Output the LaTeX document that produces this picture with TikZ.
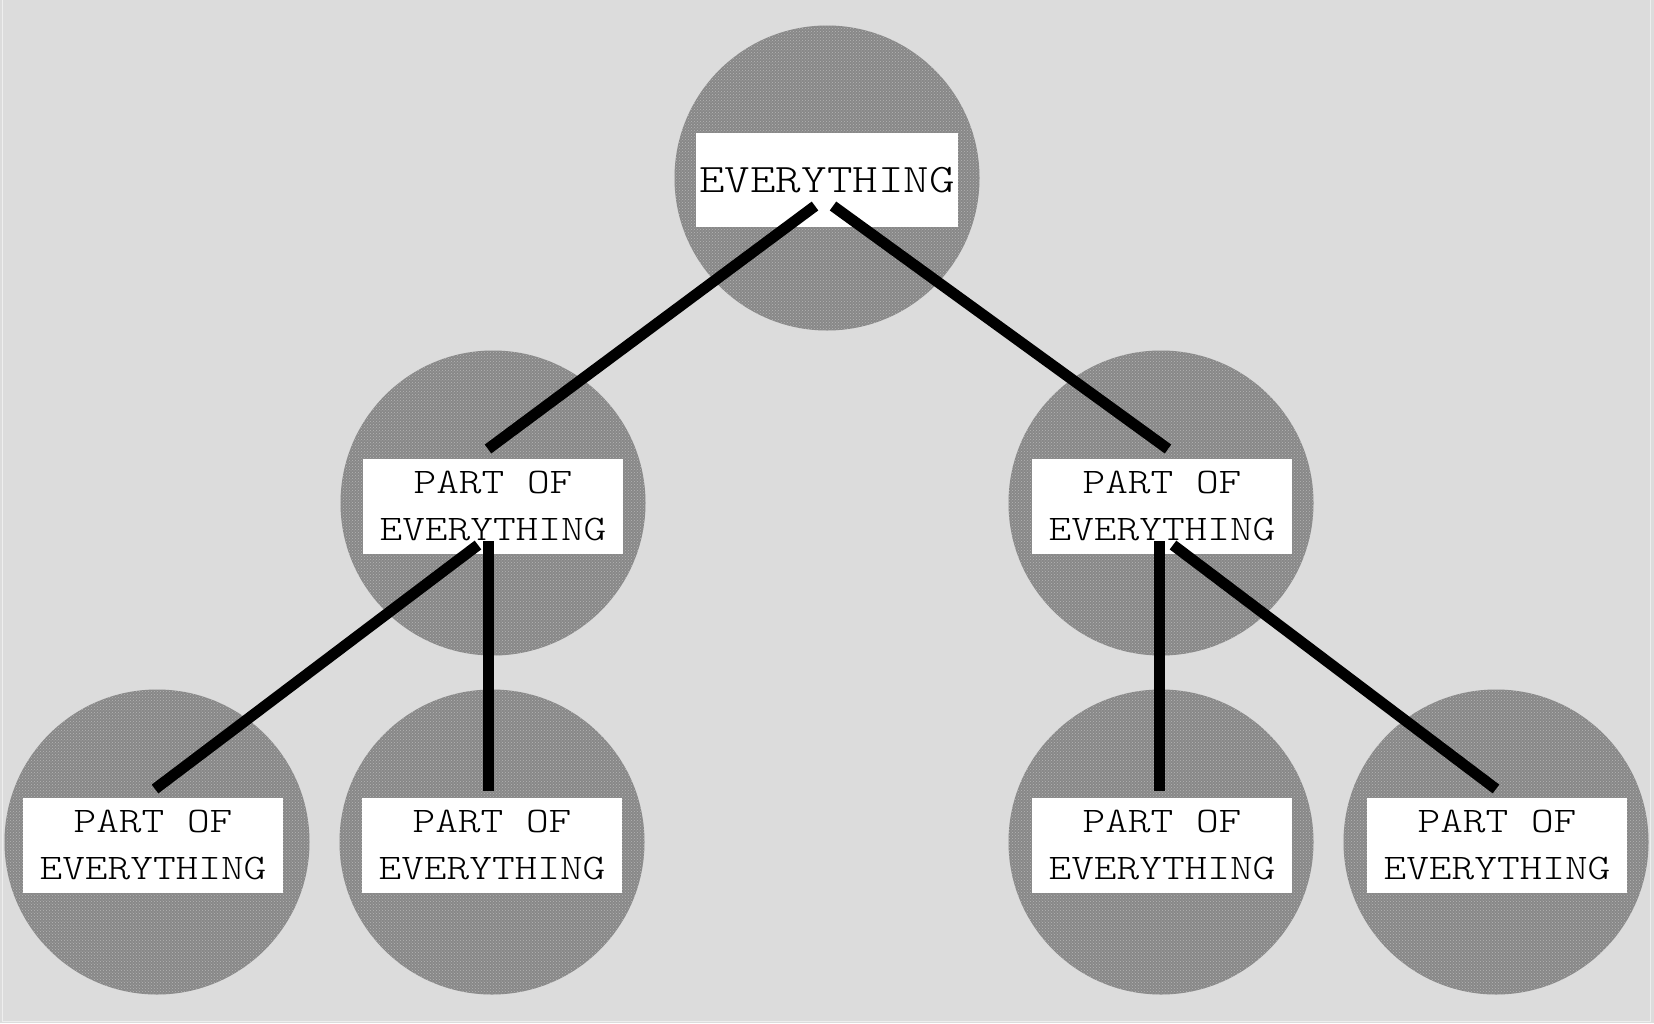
\documentclass[tikz,border=0pt]{standalone}
\usepackage{fontspec}
\newfontfamily\cour[FakeStretch=1.2]{Latin Modern Mono Light}
\usetikzlibrary{calc,patterns}
\definecolor{bgc}{HTML}{DCDCDC}
\definecolor{discfill}{HTML}{888888}
\definecolor{discdot}{HTML}{B4B4B4}
\definecolor{edgec}{HTML}{EEEEEE}
\tikzset{
  disc/.style={circle, minimum size=305pt, inner sep=0pt, fill=discfill,
    postaction={pattern=crosshatch dots, pattern color=discdot}},
  toplabel/.style={fill=white, inner sep=0pt, minimum width=262pt, minimum height=94pt,
    font=\cour\fontsize{40.5}{47}\selectfont},
  partlabel/.style={fill=white, inner sep=0pt, minimum width=260pt, minimum height=95pt,
    align=center, font=\cour\fontsize{36}{47}\selectfont},
  link/.style={line width=11pt, black, line cap=butt}
}
\begin{document}
\begin{tikzpicture}[x=1pt,y=-1pt]
\useasboundingbox (0,0) rectangle (1654,1023);
\fill[bgc] (0,0) rectangle (1654,1023);
\draw[edgec, line width=1pt] (2.5,0) -- (2.5,1021) -- (1650.5,1021) -- (1650.5,0);
% discs
\node[disc] (top) at (827,178) {};
\node[disc] (ml) at (493,503) {};
\node[disc] (mr) at (1161,503) {};
\node[disc] (bl) at (157,842) {};
\node[disc] (b2) at (492,842) {};
\node[disc] (b3) at (1161,842) {};
\node[disc] (br) at (1496,842) {};
% labels
\node[toplabel] (ltop) at (827,180) {EVERYTHING};
\node[partlabel] (lml) at (493,506) {PART OF\\EVERYTHING};
\node[partlabel] (lmr) at (1162,506) {PART OF\\EVERYTHING};
\node[partlabel] (lbl) at (153,845) {PART OF\\EVERYTHING};
\node[partlabel] (lb2) at (492,845) {PART OF\\EVERYTHING};
\node[partlabel] (lb3) at (1162,845) {PART OF\\EVERYTHING};
\node[partlabel] (lbr) at (1497,845) {PART OF\\EVERYTHING};
% connectors
\draw[link] ($(top)+(-12,28)$) -- ($(ml)+(-5,-54)$);
\draw[link] ($(top)+(6,28)$) -- ($(mr)+(7,-54)$);
\draw[link] ($(ml)+(-15,42)$) -- ($(bl)+(-2,-53)$);
\draw[link] ($(ml)+(-5,38)$) -- ($(b2)+(-4,-51)$);
\draw[link] ($(mr)+(-2,38)$) -- ($(b3)+(-2,-51)$);
\draw[link] ($(mr)+(12,42)$) -- ($(br)+(0,-53)$);
\end{tikzpicture}
\end{document}
